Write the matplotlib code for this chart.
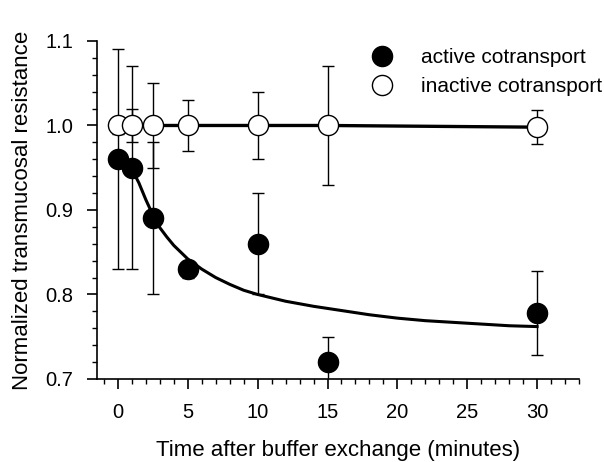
import matplotlib
matplotlib.use('Agg')
import matplotlib.pyplot as plt
from matplotlib.ticker import MultipleLocator

plt.rcParams['font.family'] = ['Liberation Sans', 'DejaVu Sans']

# measured points
time_min = [0, 1, 2.5, 5, 10, 15, 30]
active = [0.96, 0.95, 0.89, 0.83, 0.86, 0.72, 0.778]
active_err = [0.13, 0.12, 0.09, 0.01, 0.06, 0.03, 0.05]
inactive = [1.0, 1.0, 1.0, 1.0, 1.0, 1.0, 0.998]
inactive_err = [0.01, 0.02, 0.05, 0.03, 0.04, 0.07, 0.02]

# fitted curve for active cotransport
fit_t = [0, 1, 1.5, 2, 2.5, 3, 3.5, 4, 4.5, 5, 6, 7, 8, 9, 10, 12, 14, 16, 18, 20, 22, 25, 28, 30]
fit_y = [0.960, 0.948, 0.932, 0.912, 0.894, 0.879, 0.868, 0.858, 0.850, 0.842, 0.830, 0.820, 0.812, 0.805,
         0.800, 0.792, 0.786, 0.781, 0.776, 0.772, 0.769, 0.766, 0.763, 0.762]

fig = plt.figure(figsize=(6.04, 4.62), dpi=100)
ax = fig.add_axes([0.1606, 0.1797, 0.798, 0.7316])

ax.plot(time_min, inactive, color='black', lw=2.4, zorder=2)
ax.plot(fit_t, fit_y, color='black', lw=2.2, zorder=2)

ax.errorbar(time_min, active, yerr=active_err, fmt='none', ecolor='black',
            elinewidth=1, capsize=4, capthick=1, zorder=1)
ax.errorbar(time_min, inactive, yerr=inactive_err, fmt='none', ecolor='black',
            elinewidth=1, capsize=4, capthick=1, zorder=1)

ax.plot(time_min, active, 'o', ms=14.5, mfc='black', mec='black', mew=1,
        ls='none', zorder=3, label='active cotransport')
ax.plot(time_min, inactive, 'o', ms=14.5, mfc='white', mec='black', mew=1,
        ls='none', zorder=3, label='inactive cotransport')

ax.set_xlim(-1.5, 33)
ax.set_ylim(0.7, 1.1)
ax.xaxis.set_major_locator(MultipleLocator(5))
ax.xaxis.set_minor_locator(MultipleLocator(1))
ax.yaxis.set_minor_locator(MultipleLocator(0.02))
ax.set_yticks([0.7, 0.8, 0.9, 1.0, 1.1])
ax.set_yticklabels(['0.7', '0.8', '0.9', '1.0', '1.1'])

for s in ['top', 'right']:
    ax.spines[s].set_visible(False)
for s in ['left', 'bottom']:
    ax.spines[s].set_linewidth(1.2)

ax.tick_params(which='major', direction='out', length=7, width=1.2, labelsize=14.5)
ax.tick_params(axis='x', which='major', pad=10)
ax.tick_params(axis='y', which='major', pad=10)
ax.tick_params(which='minor', direction='out', length=3.5, width=1)

ax.set_xlabel('Time after buffer exchange (minutes)', fontsize=16, labelpad=13)
ax.set_ylabel('Normalized transmucosal resistance', fontsize=16, labelpad=9)

ax.legend(loc='upper left', bbox_to_anchor=(0.53, 1.035), frameon=False, fontsize=15,
          handlelength=1.0, handletextpad=1.4, labelspacing=0.5, markerscale=1.0)

plt.savefig('out.png', dpi=100)
